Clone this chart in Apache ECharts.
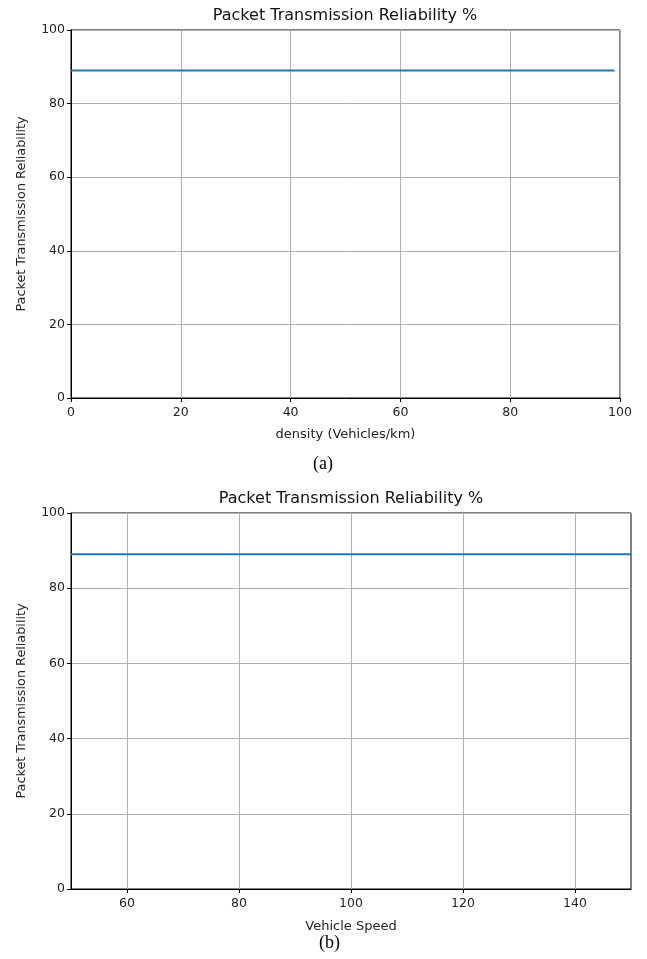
<!DOCTYPE html>
<html>
<head>
<meta charset="utf-8">
<script src="https://cdn.jsdelivr.net/npm/echarts@6/dist/echarts.min.js"></script>
<style>
html,body{margin:0;padding:0;background:#fff;}
#c{width:647px;height:959px;}
</style>
</head>
<body>
<div id="c"></div>
<script>
var titleText = 'Packet Transmission Reliability %';
var yName = 'Packet Transmission Reliability';
var densityX = [0, 20, 40, 60, 80, 99];
var densityY = [89, 89, 89, 89, 89, 89];
var speedX = [50, 70, 90, 110, 130, 150];
var speedY = [89, 89, 89, 89, 89, 89];
var yTicks = [0, 20, 40, 60, 80, 100];
var xTicksA = [0, 20, 40, 60, 80, 100];
var xTicksB = [60, 80, 100, 120, 140];

var font = 'DejaVu Sans';
var chart = echarts.init(document.getElementById('c'), null, {renderer: 'canvas'});

function xAxisCfg(idx, min, max, name, gap, ticks) {
  return {
    type: 'value', gridIndex: idx, min: min, max: max, interval: 20,
    name: name, nameLocation: 'middle', nameGap: gap,
    nameTextStyle: {fontFamily: font, fontSize: 13, color: '#222'},
    axisLine: {show: true, onZero: false, lineStyle: {color: '#000', width: 1}},
    axisTick: {show: true, length: 4, customValues: ticks, lineStyle: {color: '#000'}},
    axisLabel: {fontFamily: font, fontSize: 12.5, color: '#222', margin: 8,
      customValues: ticks, showMinLabel: true, showMaxLabel: true},
    splitLine: {show: true, lineStyle: {color: '#b0b0b0', width: 1}}
  };
}
function yAxisCfg(idx) {
  return {
    type: 'value', gridIndex: idx, min: 0, max: 100, interval: 20,
    name: yName, nameLocation: 'middle', nameGap: 43, nameRotate: 90,
    nameTextStyle: {fontFamily: font, fontSize: 12.8, color: '#222'},
    axisLine: {show: true, lineStyle: {color: '#000', width: 1}},
    axisTick: {show: true, length: 4, customValues: yTicks, lineStyle: {color: '#000'}},
    axisLabel: {fontFamily: font, fontSize: 12.5, color: '#222', margin: 6, customValues: yTicks},
    splitLine: {show: true, lineStyle: {color: '#b0b0b0', width: 1}}
  };
}

chart.setOption({
  backgroundColor: '#fff',
  animation: false,
  title: [
    {text: titleText, left: 340, top: 3, textAlign: 'center',
     textStyle: {fontFamily: font, fontSize: 16, fontWeight: 'normal', color: '#111'}},
    {text: titleText, left: 346, top: 486, textAlign: 'center',
     textStyle: {fontFamily: font, fontSize: 16, fontWeight: 'normal', color: '#111'}}
  ],
  grid: [
    {left: 71, width: 549, top: 30, height: 368, show: true, borderColor: '#000', borderWidth: 1, containLabel: false},
    {left: 71, width: 560, top: 513, height: 376, show: true, borderColor: '#000', borderWidth: 1, containLabel: false}
  ],
  xAxis: [
    xAxisCfg(0, 0, 100, 'density (Vehicles/km)', 30, xTicksA),
    xAxisCfg(1, 50, 150, 'Vehicle Speed', 31, xTicksB)
  ],
  yAxis: [yAxisCfg(0), yAxisCfg(1)],
  graphic: [
    {type: 'text', style: {text: '(a)', fontFamily: 'Liberation Serif', fontSize: 18, fill: '#000'}, top: 455, left: 313},
    {type: 'text', style: {text: '(b)', fontFamily: 'Liberation Serif', fontSize: 18, fill: '#000'}, top: 934, left: 319}
  ],
  series: [
    {type: 'line', xAxisIndex: 0, yAxisIndex: 0, showSymbol: false, symbol: 'none',
     lineStyle: {color: '#1f77b4', width: 2}, data: densityX.map(function(x,i){return [x, densityY[i]];})},
    {type: 'line', xAxisIndex: 1, yAxisIndex: 1, showSymbol: false, symbol: 'none',
     lineStyle: {color: '#1f77b4', width: 2}, data: speedX.map(function(x,i){return [x, speedY[i]];})}
  ]
});
</script>
</body>
</html>
